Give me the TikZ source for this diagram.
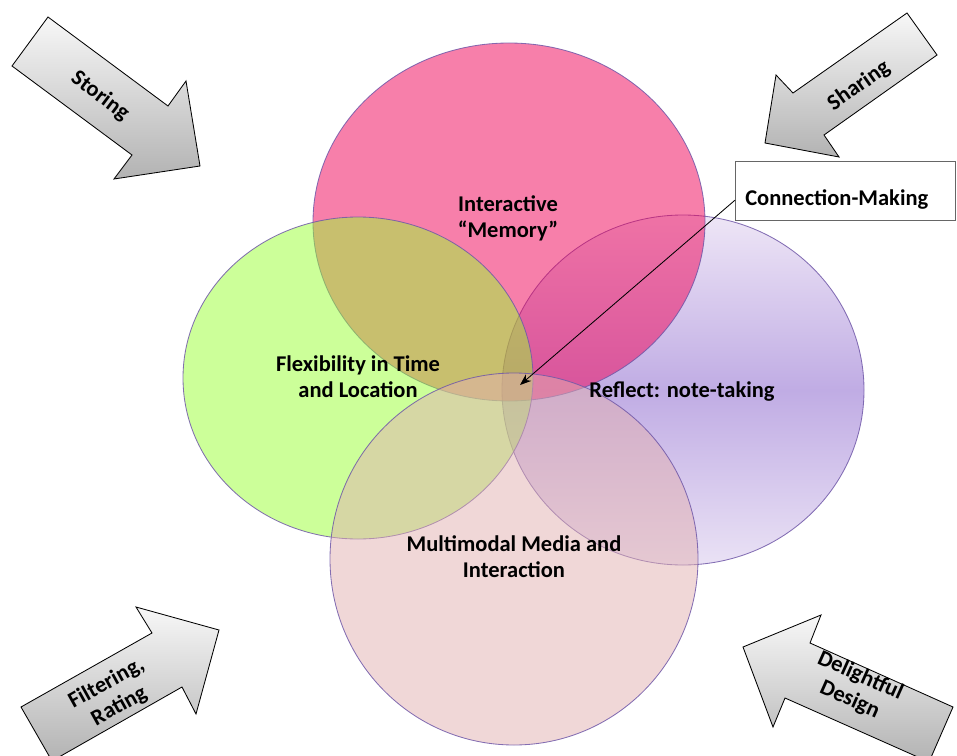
\documentclass[tikz,border=0pt]{standalone}
\usepackage{fontspec}
\setmainfont{Carlito}
\usetikzlibrary{arrows.meta}

\definecolor{memfill}{RGB}{240,0,86}
\definecolor{flexfill}{RGB}{153,255,51}
\definecolor{mmfill}{RGB}{226,176,176}
\definecolor{reftop}{RGB}{238,230,246}
\definecolor{refmid}{RGB}{192,172,228}
\definecolor{refbot}{RGB}{234,226,245}
\definecolor{ringline}{RGB}{112,88,168}

\begin{document}
\begin{tikzpicture}[x=0.025cm, y=-0.025cm,
    every node/.style={font=\fontsize{16}{18.5}\selectfont\bfseries, align=center},
    ring/.style={draw=ringline, line width=0.6pt, draw opacity=0.85},
    bigarrow/.style={draw=black, line width=0.6pt, top color=black!3, bottom color=black!30}]
    \useasboundingbox (0,0) rectangle (957,755);
    \clip (0,0) rectangle (957,755);

    % the four circles
    \draw[ring, top color=reftop, bottom color=refbot, middle color=refmid]
        (683,390) ellipse [x radius=181, y radius=175];
    \draw[ring, fill=memfill, fill opacity=0.5] (509,222) ellipse [x radius=196, y radius=179];
    \draw[ring, fill=flexfill, fill opacity=0.5] (358,378) ellipse [x radius=175, y radius=161];
    \draw[ring, fill=mmfill, fill opacity=0.5] (514,559) ellipse [x radius=184, y radius=186];

    \node (memory) at (508,218) {Interactive\\“Memory”};
    \node (flex) at (358,377) {Flexibility in Time\\and Location};
    \node (reflect) at (682,392) {Reflect: note-taking};
    \node (multi) at (514,557) {Multimodal Media and\\Interaction};

    % callout
    \node[draw=black!60, fill=white, anchor=west, align=left, text width=5.0cm,
        inner xsep=0.25cm, inner ysep=0pt, minimum height=1.475cm,
        text height=0.75cm, text depth=0cm] (conmak) at (735,190.5) {Connection-Making};
    \coordinate (core) at (520,385);
    \draw[-{Stealth[length=8pt, width=6pt]}, line width=0.6pt] (conmak.185) -- (core);

    % block arrows
    \draw[bigarrow] (48,17) -- (168,106) -- (186,81) -- (200,166) -- (114,179)
        -- (132,155) -- (12,66) -- cycle;
    \draw[bigarrow] (907,13) -- (937,55) -- (824,135) -- (839,157) -- (765,143)
        -- (776,75) -- (793,93) -- cycle;
    \draw[bigarrow] (21,707) -- (152,633) -- (136,607) -- (219,630) -- (196,714)
        -- (182,687) -- (52,761) -- cycle;
    \draw[bigarrow] (743,647) -- (821,615) -- (810,643) -- (953,707) -- (929,762)
        -- (785,698) -- (773,727) -- cycle;

    \node[rotate=-37] (storing) at (100,96) {Storing};
    \node[rotate=35] (sharing) at (859,86) {Sharing};
    \node[rotate=29] (filtering) at (113,695) {Filtering,\\Rating};
    \node[rotate=-24] (delight) at (855,688) {Delightful\\Design};
\end{tikzpicture}
\end{document}
